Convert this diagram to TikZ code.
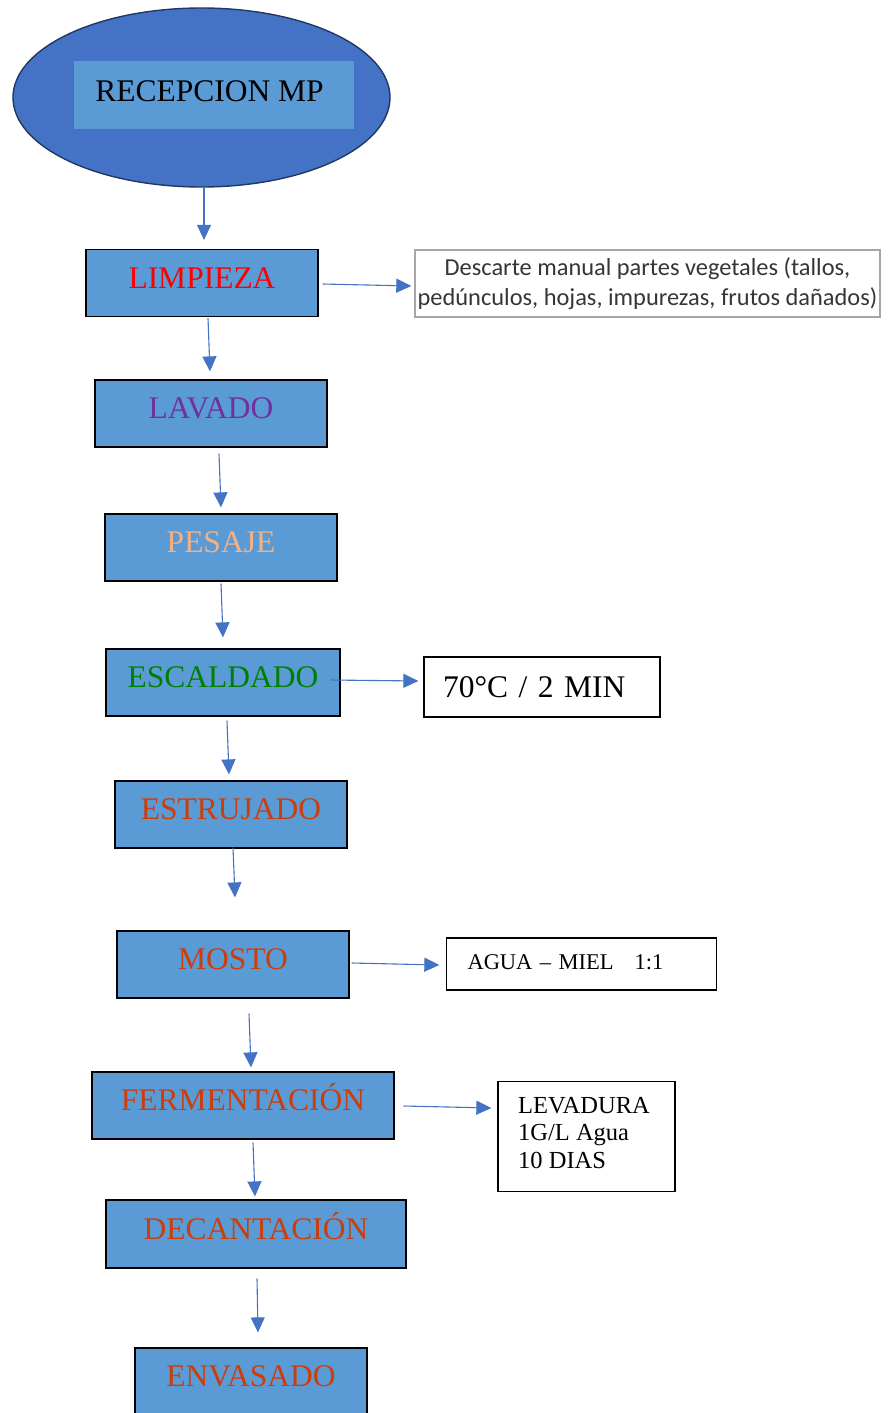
\documentclass[tikz,border=0pt]{standalone}
\usepackage{fontspec}
\setmainfont{Liberation Serif}
\newfontfamily\calibrifont{Carlito}
\usetikzlibrary{arrows.meta,shapes.geometric}
\definecolor{boxblue}{HTML}{5B9BD5}
\definecolor{ellblue}{HTML}{4472C4}
\definecolor{ellline}{HTML}{203864}
\definecolor{arrblue}{HTML}{4472C4}
\definecolor{tred}{HTML}{FF0000}
\definecolor{tpurple}{HTML}{7030A0}
\definecolor{torange}{HTML}{F4B183}
\definecolor{tgreen}{HTML}{008000}
\definecolor{tbrick}{HTML}{CC3D0C}
\definecolor{descgray}{HTML}{A6A6A6}
\definecolor{desctext}{HTML}{363636}
\begin{document}
\begin{tikzpicture}[x=1pt,y=-1pt,
  stepbox/.style={draw=black, line width=1.2pt, fill=boxblue, minimum width=232pt,
    minimum height=67pt, inner sep=0pt, text height=21pt, text depth=11pt,
    font=\fontsize{31.5}{36}\selectfont},
  notebox/.style={draw=black, line width=1.3pt, fill=white, inner sep=0pt},
  arr/.style={draw=arrblue, line width=1.1pt, -{Triangle[length=15pt,width=14pt]}},
]
\useasboundingbox (0,0) rectangle (895,1413);
\clip (0,0) rectangle (895,1413);

% start ellipse
\node[ellipse, draw=ellline, line width=1.4pt, fill=ellblue, minimum width=377pt,
  minimum height=179pt, inner sep=0pt] (ell) at (201.5,97.5) {};
\node[fill=boxblue, minimum width=280pt, minimum height=68pt, inner sep=0pt,
  text height=21pt, text depth=9pt, font=\fontsize{31.5}{36}\selectfont] (rec) at (214,95)
  {\hspace*{-9pt}RECEPCION MP};

% process steps
\node[stepbox, text=tred] (limp) at (202,283) {LIMPIEZA};
\node[stepbox, text=tpurple] (lav) at (211,413.5) {LAVADO};
\node[stepbox, text=torange] (pes) at (221,547.5) {PESAJE};
\node[stepbox, text=tgreen, minimum width=234pt] (esc) at (223,682.5) {ESCALDADO};
\node[stepbox, text=tbrick] (est) at (231,814.5) {ESTRUJADO};
\node[stepbox, text=tbrick] (mos) at (233,964.5) {MOSTO};
\node[stepbox, text=tbrick, minimum width=302pt] (fer) at (243,1105.5) {FERMENTACIÓN};
\node[stepbox, text=tbrick, minimum width=300pt, minimum height=68pt] (dec) at (256,1234) {DECANTACIÓN};
\node[stepbox, text=tbrick] (env) at (251,1381.5) {ENVASADO};

% side notes
\node[draw=descgray, line width=1.4pt, fill=white, minimum width=465pt, minimum height=67pt,
  inner sep=0pt, align=center, text=desctext,
  font=\calibrifont\fontsize{24.4}{29.7}\selectfont] (desc) at (647.5,283.5)
  {Descarte manual partes vegetales (tallos,\\pedúnculos, hojas, impurezas, frutos dañados)};
\node[notebox, minimum width=236pt, minimum height=60pt, text width=198pt, align=left,
  inner xsep=19pt, text height=21pt, text depth=0pt,
  font=\fontsize{31.5}{36}\selectfont] (temp) at (542,687) {70°C / 2 MIN};
\node[notebox, minimum width=270pt, minimum height=52pt, text width=228pt, align=left,
  inner xsep=21pt, text height=15pt, text depth=4.4pt,
  font=\fontsize{22.5}{26}\selectfont] (agua) at (581.5,964) {AGUA – MIEL\hspace*{21pt}1:1};
\node[notebox, minimum width=177pt, minimum height=110pt] (lev) at (586.5,1136.5) {};
\node[anchor=north west, inner sep=0pt, align=left,
  font=\fontsize{24.5}{27.5}\selectfont] (levt) at (518,1097) {LEVADURA\\1G/L Agua\\10 DIAS};

% connectors
\draw[arr] ([xshift=2.5pt]ell.south) -- ([xshift=2pt,yshift=9pt]limp.north);
\draw[arr] ([xshift=4pt,yshift=-1pt]limp.east) -- ([xshift=-3pt,yshift=-2.5pt]desc.west);
\draw[arr] ([xshift=6pt,yshift=-1pt]limp.south) -- ([xshift=-1pt,yshift=8pt]lav.north);
\draw[arr] ([xshift=8pt,yshift=-6pt]lav.south) -- ([yshift=6pt]pes.north);
\draw[arr] ([yshift=-2pt]pes.south) -- ([yshift=11pt]esc.north);
\draw[arr] ([xshift=-10pt,yshift=2.5pt]esc.east) -- ([xshift=-5pt,yshift=6pt]temp.west);
\draw[arr] ([xshift=4pt,yshift=-4pt]esc.south) -- ([xshift=-2pt,yshift=6pt]est.north);
\draw[arr] ([xshift=2pt,yshift=1pt]est.south) -- ([xshift=2pt,yshift=33pt]mos.north);
\draw[arr] ([xshift=2pt,yshift=1.5pt]mos.east) -- ([xshift=-6.5pt,yshift=-1pt]agua.west);
\draw[arr] ([xshift=16pt,yshift=-15pt]mos.south) -- ([xshift=8pt,yshift=4pt]fer.north);
\draw[arr] ([xshift=9pt,yshift=-0.5pt]fer.east) -- ([xshift=-6pt,yshift=28.5pt]lev.west);
\draw[arr] ([xshift=10pt,yshift=-3pt]fer.south) -- ([xshift=-1pt,yshift=3pt]dec.north);
\draw[arr] ([xshift=1pt,yshift=-10pt]dec.south) -- ([xshift=7pt,yshift=15pt]env.north);
\end{tikzpicture}
\end{document}
